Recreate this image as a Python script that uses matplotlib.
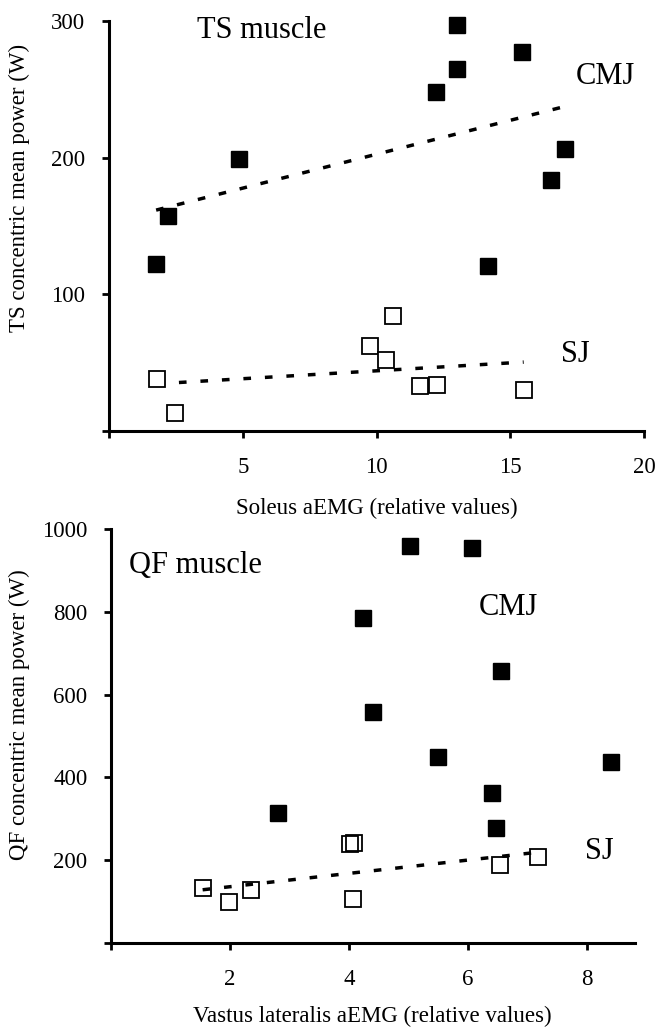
import numpy as np
import matplotlib
matplotlib.use("Agg")
import matplotlib.pyplot as plt

plt.rcParams['font.family'] = ['Liberation Serif', 'DejaVu Serif']

# TS muscle (top panel)
ts_cmj_x = [1.76, 2.2, 4.84, 12.23, 13.02, 12.99, 15.44, 14.18, 16.54, 17.06]
ts_cmj_y = [122, 157, 199, 248, 297, 265, 277, 121, 184, 206]
ts_sj_x = [1.81, 2.45, 9.75, 10.35, 10.61, 11.64, 12.26, 15.5]
ts_sj_y = [38, 13, 62, 52, 84, 33, 34, 30]

# QF muscle (bottom panel)
qf_cmj_x = [5.02, 6.07, 4.24, 6.55, 4.40, 5.50, 8.41, 6.41, 6.47, 2.81]
qf_cmj_y = [958, 954, 786, 657, 558, 450, 438, 362, 277, 313]
qf_sj_x = [1.54, 1.98, 2.36, 4.02, 4.09, 4.06, 6.53, 7.17]
qf_sj_y = [133, 99, 127, 239, 241, 107, 188, 207]

TS = 16.5
ANN = 22


def trend(ax, x, y):
    x = np.asarray(x, float)
    y = np.asarray(y, float)
    k, b = np.polyfit(x, y, 1)
    xs = np.array([x.min(), x.max()])
    ax.plot(xs, k * xs + b, color='black', lw=2.5, ls=(0, (2.2, 4.0)),
            dash_capstyle='butt', zorder=3)


def style(ax):
    for s in ['top', 'right']:
        ax.spines[s].set_visible(False)
    for s in ['left', 'bottom']:
        ax.spines[s].set_linewidth(2.2)
        ax.spines[s].set_color('black')
    ax.tick_params(axis='both', direction='out', length=5, width=2,
                   labelsize=TS, colors='black')
    ax.tick_params(axis='x', pad=14)
    ax.tick_params(axis='y', pad=12)


fig = plt.figure(figsize=(6.58, 10.27), dpi=100)

# top panel
ax1 = fig.add_axes([0.1657, 0.5803, 0.8131, 0.3993])
ax1.plot(ts_cmj_x, ts_cmj_y, 's', ms=11.5, mfc='black', mec='black', clip_on=False, zorder=4)
ax1.plot(ts_sj_x, ts_sj_y, 's', ms=11.5, mfc='white', mec='black', mew=1.3, clip_on=False, zorder=4)
trend(ax1, ts_cmj_x, ts_cmj_y)
trend(ax1, ts_sj_x, ts_sj_y)
ax1.set_xlim(0, 20)
ax1.set_ylim(0, 300)
ax1.set_xticks([0, 5, 10, 15, 20], ['', '5', '10', '15', '20'])
ax1.set_yticks([0, 100, 200, 300], ['', '100', '200', '300'])
style(ax1)
ax1.set_xlabel('Soleus aEMG (relative values)', fontsize=TS, labelpad=14)
ax1.set_ylabel('TS concentric mean power (W)', fontsize=TS)
ax1.yaxis.set_label_coords(-0.148, 0.593)
ax1.text(3.29, 293, 'TS muscle', fontsize=ANN, va='center', ha='left')
ax1.text(17.46, 259, 'CMJ', fontsize=ANN, va='center', ha='left')
ax1.text(16.9, 56, 'SJ', fontsize=ANN, va='center', ha='left')

# bottom panel
ax2 = fig.add_axes([0.1687, 0.0818, 0.7957, 0.4031])
ax2.plot(qf_cmj_x, qf_cmj_y, 's', ms=11.5, mfc='black', mec='black', clip_on=False, zorder=4)
ax2.plot(qf_sj_x, qf_sj_y, 's', ms=11.5, mfc='none', mec='black', mew=1.3, clip_on=False, zorder=4)
trend(ax2, qf_sj_x, qf_sj_y)
ax2.set_xlim(0, 8.8)
ax2.set_ylim(0, 1000)
ax2.set_xticks([0, 2, 4, 6, 8], ['', '2', '4', '6', '8'])
ax2.set_yticks([0, 200, 400, 600, 800, 1000], ['', '200', '400', '600', '800', '1000'])
style(ax2)
ax2.set_xlabel('Vastus lateralis aEMG (relative values)', fontsize=TS, labelpad=11)
ax2.set_ylabel('QF concentric mean power (W)', fontsize=TS)
ax2.yaxis.set_label_coords(-0.155, 0.551)
ax2.text(0.30, 913, 'QF muscle', fontsize=ANN, va='center', ha='left')
ax2.text(6.18, 811, 'CMJ', fontsize=ANN, va='center', ha='left')
ax2.text(7.96, 222, 'SJ', fontsize=ANN, va='center', ha='left')

fig.savefig('out.png', dpi=100)
